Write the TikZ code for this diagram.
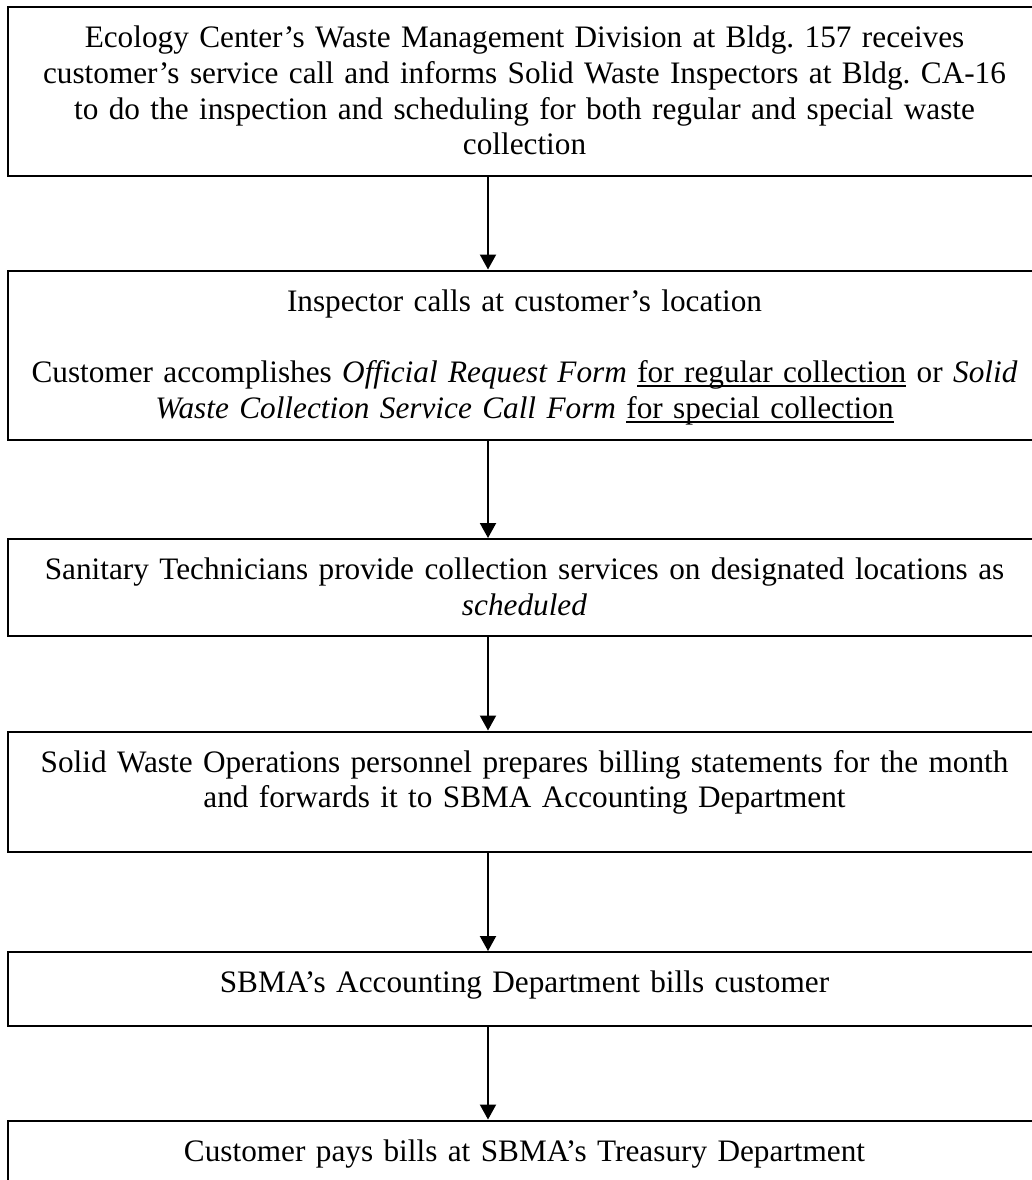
\documentclass[tikz,border=0pt]{standalone}
\usepackage{fontspec}
\setmainfont{Liberation Serif}
\frenchspacing
\usetikzlibrary{positioning,arrows.meta}

\newcommand{\undl}[1]{\setbox0\hbox{#1}\rlap{\rule[-1.7pt]{\wd0}{0.7pt}}\box0\relax}

\tikzset{
  stepbox/.style={draw, line width=0.8pt, anchor=north west, inner xsep=0pt, inner ysep=0pt,
    text width=413.2pt, align=center, text height=16.2pt,
    font=\fontsize{12.5pt}{14.3pt}\selectfont},
  flow/.style={-{Triangle[width=6.4pt,length=6pt]}, line width=0.8pt}
}

\begin{document}
\begin{tikzpicture}[x=0.4pt,y=-0.4pt]
      \useasboundingbox (0,0) rectangle (1032,1180);
      \clip (0,0) rectangle (1032,1180);

      \node[stepbox, text depth=51.2pt] (call) at (7,6)
        {Ecology Center’s Waste Management Division at Bldg. 157 receives\\
         customer’s service call and informs Solid Waste Inspectors at Bldg. CA-16\\
         to do the inspection and scheduling for both regular and special waste\\
         collection};
      \node[stepbox, text depth=51.6pt, below=37.2pt of call] (insp)
        {Inspector calls at customer’s location\\[14.3pt]
         Customer accomplishes \textit{Official Request Form} \undl{for regular collection} or \textit{Solid}\\
         \textit{Waste Collection Service Call Form} \undl{for special collection}};
      \node[stepbox, text depth=22.4pt, below=38.8pt of insp] (tech)
        {Sanitary Technicians provide collection services on designated locations as\\
         \textit{scheduled}};
      \node[stepbox, text depth=32pt, below=37.6pt of tech] (bill)
        {Solid Waste Operations personnel prepares billing statements for the month\\
         and forwards it to SBMA Accounting Department};
      \node[stepbox, text depth=13.2pt, below=39.2pt of bill] (acct)
        {SBMA’s Accounting Department bills customer};
      \node[stepbox, text depth=40pt, below=37.2pt of acct] (pay)
        {Customer pays bills at SBMA’s Treasury Department};

      % arrows down the left of centre
      \coordinate (ax) at (488,0);
      \draw[flow] (call.south -| ax) -- (insp.north -| ax);
      \draw[flow] (insp.south -| ax) -- (tech.north -| ax);
      \draw[flow] (tech.south -| ax) -- (bill.north -| ax);
      \draw[flow] (bill.south -| ax) -- (acct.north -| ax);
      \draw[flow] (acct.south -| ax) -- (pay.north -| ax);
\end{tikzpicture}
\end{document}
